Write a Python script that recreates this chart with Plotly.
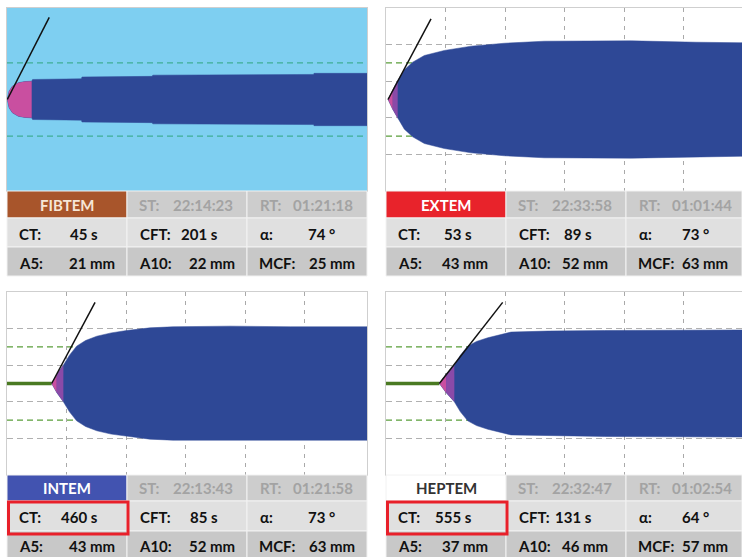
import numpy as np
import plotly.graph_objects as go

# ---------------- data ----------------
tests = ["FIBTEM", "EXTEM", "INTEM", "HEPTEM"]
st_times = ["22:14:23", "22:33:58", "22:13:43", "22:32:47"]
rt_times = ["01:21:18", "01:01:44", "01:21:58", "01:02:54"]
ct_vals = ["45 s", "53 s", "460 s", "555 s"]
cft_vals = ["201 s", "89 s", "85 s", "131 s"]
alpha_vals = ["74 °", "73 °", "73 °", "64 °"]
a5_vals = ["21 mm", "43 mm", "43 mm", "37 mm"]
a10_vals = ["22 mm", "52 mm", "52 mm", "46 mm"]
mcf_vals = ["25 mm", "63 mm", "63 mm", "57 mm"]
highlight_ct = [False, False, True, True]

# curve: time (min) and amplitude (mm), symmetric about 0
fibtem_t = [0.05, 0.35, 0.9, 1.9, 3.0, 4.15, 4.3, 12.5, 12.6, 24.4, 24.5, 51.5, 51.6, 60.5]
fibtem_a = [0, 9.0, 14.5, 18.3, 19.6, 20.0, 21.9, 22.6, 24.6, 25.3, 26.6, 27.4, 28.6, 28.6]
extem_t = [0.34, 1.12, 1.96, 3.08, 4.48, 6.44, 9.8, 14.3, 19.9, 26.6, 41.2, 52.1, 59.8]
extem_a = [0, 10.6, 20.8, 32.4, 40.8, 48.1, 53.6, 58.3, 61.5, 63.7, 64.1, 62.6, 62.0]
intem_t = [7.51, 8.35, 9.47, 10.5, 11.7, 13.2, 15.1, 17.5, 20.1, 24.0, 27.9, 37.5, 47.6, 60.5]
intem_a = [0, 9.8, 20.0, 31.0, 40.8, 47.0, 51.7, 55.3, 57.9, 60.8, 62.0, 62.7, 62.0, 62.0]
heptem_t = [8.96, 10.08, 11.48, 12.5, 13.73, 15.2, 17.1, 21.0, 27.2, 36.7, 59.8]
heptem_a = [0, 9.8, 20.0, 31.0, 40.8, 46.0, 50.0, 56.2, 57.3, 57.9, 58.5]
curve_t = [fibtem_t, extem_t, intem_t, heptem_t]
curve_a = [fibtem_a, extem_a, intem_a, heptem_a]
pink_end = [5, 1, 1, 1]          # index where pink part ends
purple_end = [5, 2, 2, 2]        # index where transition part ends
tangent_end_t = [7.1, 7.56, 14.8, 19.6]
tangent_end_a = [89.8, 88.2, 88.7, 88.7]
flat_line = [False, False, True, True]
grey_levels = [-60, -20, 20, 60]
green_levels = [-40, 40]

# ---------------- styling / layout ----------------
W, H = 742, 557
def fx(p): return p / W
def fy(p): return 1 - p / H

header_fill = ["#a8552b", "#e8232b", "#4253b0", "#ffffff"]
header_text = ["#f6e6d6", "#ffffff", "#ffffff", "#333333"]
blob_col = "#2e4896"
pink_col = "#c94fa0"
purple_col = "#8a4aa8"
FONT = "Lato, 'Open Sans', sans-serif"
FS = 15

col_edges = [[7, 127, 247, 367], [386, 506, 626, 742], [7, 127, 247, 367], [386, 506, 626, 742]]
row_edges = [[191, 218, 247, 276], [191, 218, 247, 276], [475, 501, 531, 560], [475, 501, 531, 560]]
plot_x = [(7, 367), (386, 742), (7, 367), (386, 742)]
plot_y = [(8, 191), (8, 191), (292, 475), (292, 475)]
xmax = [60.5, 59.8, 60.5, 59.8]
val_off2 = [93, 88, 93, 88]
val_off3 = [110, 104, 110, 104]

fig = go.Figure()
shapes = []
annotations = []
layout = {}

for i in range(4):
    sfx = "" if i == 0 else str(i + 1)
    xa, ya = "x" + sfx, "y" + sfx
    t = np.array(curve_t[i], dtype=float)
    a = np.array(curve_a[i], dtype=float)

    fibtem = (i == 0)
    layout["xaxis" + sfx] = dict(
        domain=[fx(plot_x[i][0]), fx(plot_x[i][1])], range=[0, xmax[i]],
        anchor=ya, showticklabels=False, ticks="", zeroline=False,
        showgrid=not fibtem, tickvals=[10, 20, 30, 40, 50],
        gridcolor="#a9a9a9", griddash="4px,5px", gridwidth=1,
        showline=True, mirror=True, linecolor="#cfcfcf", linewidth=1, fixedrange=True)
    layout["yaxis" + sfx] = dict(
        domain=[fy(plot_y[i][1]), fy(plot_y[i][0])], range=[-100, 100],
        anchor=xa, showticklabels=False, ticks="", zeroline=False,
        showgrid=not fibtem, tickvals=grey_levels,
        gridcolor="#b0b0b0", griddash="6px,4px", gridwidth=1,
        showline=True, mirror=True, linecolor="#cfcfcf", linewidth=1, fixedrange=True)

    if fibtem:
        shapes.append(dict(type="rect", xref=xa + " domain", yref=ya + " domain",
                           x0=0, x1=1, y0=0, y1=1, fillcolor="#7ecff1",
                           line=dict(width=0), layer="below"))
    for lv in green_levels:
        fig.add_trace(go.Scatter(x=[0, xmax[i]], y=[lv, lv], mode="lines", xaxis=xa, yaxis=ya,
                                 line=dict(color="#3fae95" if fibtem else "#5a9e3a", width=1.3,
                                           dash="6px,4px"), hoverinfo="skip"))

    if flat_line[i]:
        fig.add_trace(go.Scatter(x=[0, t[0]], y=[0, 0], mode="lines", xaxis=xa, yaxis=ya,
                                 line=dict(color="#4a7a22", width=3.5), hoverinfo="skip"))

    fig.add_trace(go.Scatter(x=np.concatenate([t, t[::-1]]), y=np.concatenate([a, -a[::-1]]),
                             mode="lines", fill="toself", fillcolor=blob_col,
                             line=dict(width=0.5, color=blob_col), xaxis=xa, yaxis=ya, hoverinfo="skip"))
    k1 = purple_end[i]
    if k1 > pink_end[i]:
        ts, as_ = t[pink_end[i]:k1 + 1], a[pink_end[i]:k1 + 1]
        fig.add_trace(go.Scatter(x=np.concatenate([ts, ts[::-1]]), y=np.concatenate([as_, -as_[::-1]]),
                                 mode="lines", fill="toself", fillcolor=purple_col,
                                 line=dict(width=0), xaxis=xa, yaxis=ya, hoverinfo="skip"))
    k = pink_end[i]
    ts, as_ = t[:k + 1], a[:k + 1]
    fig.add_trace(go.Scatter(x=np.concatenate([ts, ts[::-1]]), y=np.concatenate([as_, -as_[::-1]]),
                             mode="lines", fill="toself", fillcolor=pink_col,
                             line=dict(width=0), xaxis=xa, yaxis=ya, hoverinfo="skip"))

    fig.add_trace(go.Scatter(x=[t[0], tangent_end_t[i]], y=[0, tangent_end_a[i]], mode="lines",
                             line=dict(color="#111111", width=1.5), xaxis=xa, yaxis=ya, hoverinfo="skip"))

    # ---- table ----
    c = col_edges[i]
    r = row_edges[i]
    for ri in range(3):
        for ci in range(3):
            if ri == 0:
                fill = header_fill[i] if ci == 0 else "#cdcdcd"
            elif ri == 1:
                fill = "#e0e0e0"
            else:
                fill = "#c8c8c8"
            shapes.append(dict(type="rect", xref="paper", yref="paper",
                               x0=fx(c[ci]), x1=fx(c[ci + 1]), y0=fy(r[ri + 1]), y1=fy(r[ri]),
                               fillcolor=fill, line=dict(color="#f2f2f2", width=1), layer="above"))
    if highlight_ct[i]:
        shapes.append(dict(type="rect", xref="paper", yref="paper",
                           x0=fx(c[0] + 1.5), x1=fx(c[1] + 1), y0=fy(r[2] + 3), y1=fy(r[1] + 1),
                           line=dict(color="#e8202a", width=3), layer="above"))

    def txt(x, y, s, color="#111111", anchor="left"):
        annotations.append(dict(xref="paper", yref="paper", x=fx(x), y=fy(y), text="<b>" + s + "</b>",
                                showarrow=False, xanchor=anchor, yanchor="middle",
                                font=dict(family=FONT, size=FS, color=color)))

    yh = (r[0] + r[1]) / 2
    y2 = (r[1] + r[2]) / 2 + 1
    y3 = min((r[2] + r[3]) / 2 + 1, 546)
    txt((c[0] + c[1]) / 2, yh, tests[i], header_text[i], "center")
    txt(c[1] + 10, yh, "ST:", "#a3a3a3")
    txt(c[1] + 108, yh, st_times[i], "#a3a3a3", "right")
    txt(c[2] + 11, yh, "RT:", "#a3a3a3")
    txt(c[2] + 108, yh, rt_times[i], "#a3a3a3", "right")

    txt(c[0] + 10, y2, "CT:")
    txt(c[0] + val_off2[i], y2, ct_vals[i], anchor="right")
    txt(c[1] + 11, y2, "CFT:")
    txt(c[1] + val_off2[i], y2, cft_vals[i], anchor="right")
    txt(c[2] + 11, y2, "α:")
    txt(c[2] + val_off2[i] - 3, y2, alpha_vals[i], anchor="right")

    txt(c[0] + 10, y3, "A5:")
    txt(c[0] + val_off3[i], y3, a5_vals[i], anchor="right")
    txt(c[1] + 10, y3, "A10:")
    txt(c[1] + val_off3[i], y3, a10_vals[i], anchor="right")
    txt(c[2] + 10, y3, "MCF:")
    txt(c[2] + val_off3[i], y3, mcf_vals[i], anchor="right")

fig.update_layout(width=W, height=H, margin=dict(l=0, r=0, t=0, b=0),
                  paper_bgcolor="white", plot_bgcolor="white", showlegend=False,
                  shapes=shapes, annotations=annotations, **layout)
fig.write_html("out.html", config={"displayModeBar": False},
               post_script="document.body.style.margin='0px';document.body.style.overflow='hidden';")
